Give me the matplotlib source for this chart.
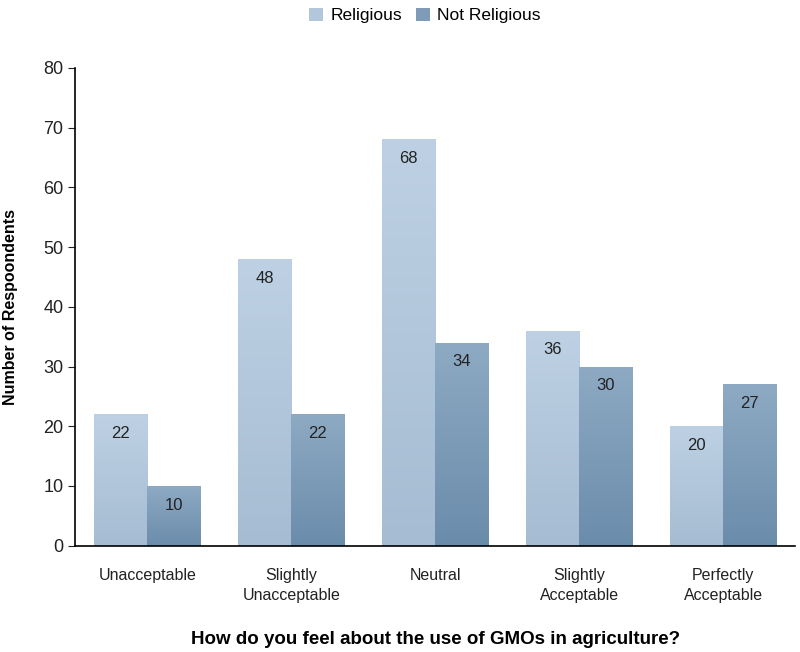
import matplotlib.pyplot as plt
import numpy as np
from matplotlib.colors import LinearSegmentedColormap
from matplotlib.patches import Patch

categories = ['Unacceptable', 'Slightly\nUnacceptable', 'Neutral',
              'Slightly\nAcceptable', 'Perfectly\nAcceptable']
religious = [22, 48, 68, 36, 20]
not_religious = [10, 22, 34, 30, 27]
series_names = ['Religious', 'Not Religious']

plt.rcParams['font.family'] = ['Liberation Sans', 'DejaVu Sans']

fig = plt.figure(figsize=(8, 6.52), dpi=100)
ax = fig.add_axes([0.094, 0.163, 0.9, 0.733])

cmaps = [LinearSegmentedColormap.from_list('r', ['#a5bcd2', '#bed1e4']),
         LinearSegmentedColormap.from_list('n', ['#6a8cab', '#8eaac3'])]
legend_colors = ['#b3c7dc', '#7e9cb8']

x = np.arange(len(categories))
width = 0.37
grad = np.linspace(0, 1, 256).reshape(-1, 1)

for k, values in enumerate([religious, not_religious]):
    offset = (k - 0.5) * width
    bars = ax.bar(x + offset, values, width, color='none', edgecolor='none')
    for bar, v in zip(bars, values):
        x0 = bar.get_x()
        im = ax.imshow(grad, cmap=cmaps[k], origin='lower', aspect='auto',
                       extent=[x0, x0 + width, 0, v], zorder=2)
        im.set_clip_path(bar)
        ax.text(x0 + width / 2, v - 3.2, str(v), ha='center', va='center',
                fontsize=12, color='#222222', zorder=3)

ax.set_xlim(-0.5, len(categories) - 0.5)
ax.set_ylim(0, 80)
ax.set_yticks(range(0, 81, 10))
ax.set_xticks(x)
ax.set_xticklabels(categories, fontsize=11.5, color='#222222', linespacing=1.45)
ax.tick_params(axis='x', length=0, pad=16)
ax.tick_params(axis='y', labelsize=13, length=5, colors='#222222')
for s in ['top', 'right']:
    ax.spines[s].set_visible(False)
ax.spines['left'].set_linewidth(1.2)
ax.spines['bottom'].set_linewidth(1.2)

ax.set_ylabel('Number of Respoondents', fontsize=11.5, fontweight='bold',
              labelpad=18)
ax.set_xlabel('How do you feel about the use of GMOs in agriculture?',
              fontsize=13.5, fontweight='bold', labelpad=20)

handles = [Patch(facecolor=c, edgecolor='none') for c in legend_colors]
fig.legend(handles, series_names, loc='upper center', ncol=2,
           bbox_to_anchor=(0.531, 1.012), frameon=False, fontsize=12.5,
           handlelength=0.8, handleheight=0.8, columnspacing=0.8,
           handletextpad=0.4)

fig.savefig('out.png', dpi=100)
